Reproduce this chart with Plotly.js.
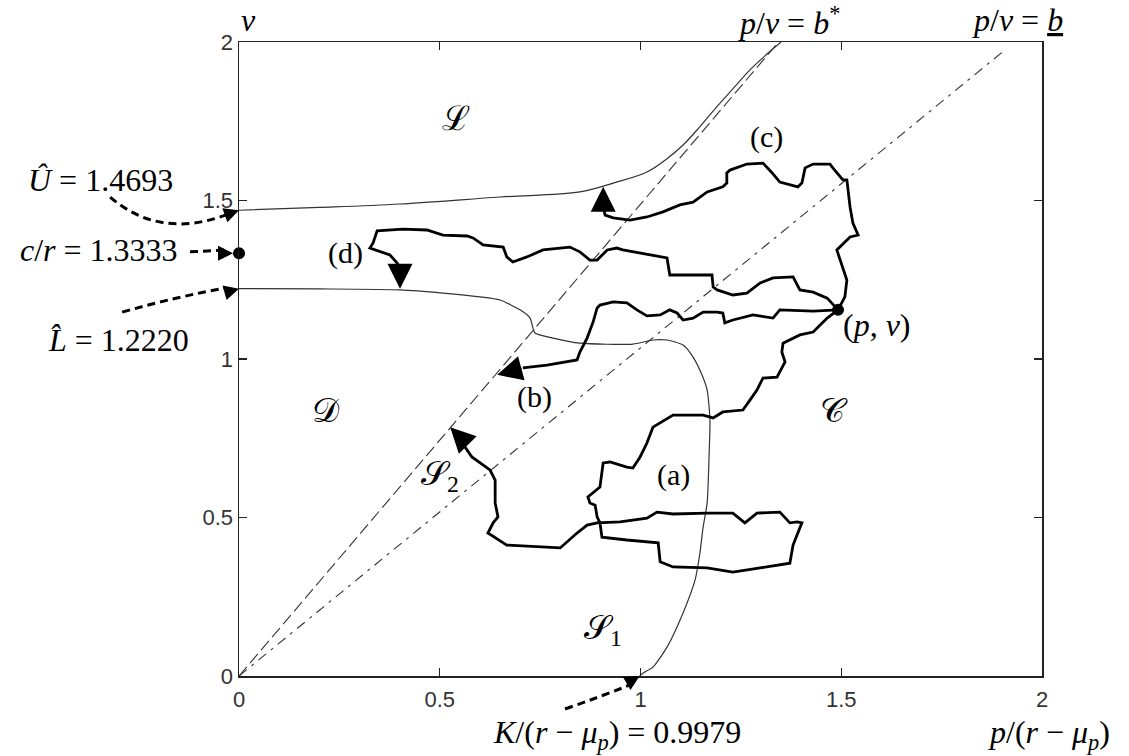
<!DOCTYPE html>
<html>
<head>
<meta charset="utf-8">
<script src="https://cdn.plot.ly/plotly-3.0.1.min.js"></script>
<style>html,body{margin:0;padding:0;background:#fff;}</style>
</head>
<body>
<div id="chart" style="width:1129px;height:756px;"></div>
<script>
// Axis ticks
const tickVals = [0, 0.5, 1, 1.5, 2];
const tickText = ['0', '0.5', '1', '1.5', '2'];
const axisRange = [0, 2];

// Key thresholds
const uHat = 1.4693;     // upper boundary at p = 0
const cOverR = 1.3333;   // c/r
const lHat = 1.2220;     // lower boundary at p = 0
const kRatio = 0.9979;   // K/(r - mu_p)
const bStar = 0.672;     // slope parameter of p/v = b*
const bLow = 0.966;      // slope parameter of p/v = b (underlined)
const bLowEndP = 1.91;

// Starting state (p, v)
const startP = 1.492;
const startV = 1.155;

// Upper free boundary (from U-hat)
const upperP = [0, 0.2, 0.401, 0.650, 0.849, 0.932, 1.016, 1.066, 1.106, 1.146, 1.186, 1.23, 1.275, 1.315, 1.35];
const upperV = [1.4693, 1.478, 1.489, 1.511, 1.527, 1.555, 1.590, 1.632, 1.675, 1.730, 1.790, 1.852, 1.915, 1.962, 2.0];

// Lower free boundary (from L-hat, down to K/(r - mu_p))
const lowerP = [0, 0.2, 0.401, 0.508, 0.600, 0.650, 0.700, 0.725, 0.732, 0.737, 0.782, 0.849, 0.981, 1.031, 1.066, 1.106, 1.131, 1.153, 1.166, 1.173, 1.171, 1.166, 1.156, 1.148, 1.136, 1.106, 1.066, 1.031, 1.006, 0.9979];
const lowerV = [1.222, 1.221, 1.218, 1.208, 1.196, 1.186, 1.155, 1.129, 1.098, 1.082, 1.066, 1.050, 1.047, 1.060, 1.060, 1.044, 1.006, 0.950, 0.902, 0.808, 0.703, 0.546, 0.470, 0.388, 0.303, 0.199, 0.091, 0.028, 0.009, 0];

// Sample paths (a)-(d), each starting at (p, v)
const pathAP = [1.492, 1.465, 1.430, 1.397, 1.355, 1.352, 1.360, 1.347, 1.340, 1.305, 1.290, 1.273, 1.255, 1.205, 1.181, 1.156, 1.081, 1.031, 1.016, 0.999, 0.981, 0.966, 0.924, 0.907, 0.899, 0.869, 0.874, 0.887, 0.892, 0.899, 0.904, 0.966, 1.044, 1.049, 1.081, 1.166, 1.230, 1.298, 1.372, 1.380, 1.402, 1.390, 1.372, 1.347, 1.290, 1.260, 1.230, 1.166, 1.081, 1.041, 1.016, 0.949, 0.892, 0.867, 0.842, 0.800, 0.667, 0.620, 0.633, 0.645, 0.638, 0.638, 0.625, 0.580, 0.563, 0.558];
const pathAV = [1.155, 1.129, 1.085, 1.076, 1.050, 1.022, 0.991, 0.959, 0.943, 0.940, 0.902, 0.871, 0.839, 0.833, 0.814, 0.823, 0.823, 0.785, 0.735, 0.691, 0.656, 0.659, 0.675, 0.672, 0.596, 0.565, 0.546, 0.539, 0.502, 0.483, 0.438, 0.429, 0.420, 0.360, 0.344, 0.341, 0.328, 0.341, 0.356, 0.413, 0.483, 0.486, 0.483, 0.517, 0.514, 0.483, 0.514, 0.514, 0.511, 0.517, 0.498, 0.486, 0.483, 0.476, 0.451, 0.404, 0.413, 0.451, 0.483, 0.502, 0.546, 0.618, 0.650, 0.691, 0.722, 0.744];

const pathBP = [1.492, 1.430, 1.347, 1.330, 1.280, 1.230, 1.210, 1.205, 1.191, 1.156, 1.131, 1.106, 1.091, 1.073, 1.049, 1.016, 0.991, 0.966, 0.932, 0.899, 0.892, 0.882, 0.867, 0.849, 0.842, 0.767, 0.707];
const pathBV = [1.155, 1.151, 1.155, 1.129, 1.139, 1.123, 1.114, 1.145, 1.148, 1.148, 1.129, 1.123, 1.145, 1.155, 1.139, 1.136, 1.155, 1.177, 1.180, 1.170, 1.161, 1.117, 1.066, 1.022, 0.997, 0.981, 0.972];

const pathCP = [1.492, 1.509, 1.514, 1.504, 1.489, 1.522, 1.542, 1.529, 1.522, 1.514, 1.504, 1.479, 1.472, 1.430, 1.410, 1.402, 1.392, 1.347, 1.328, 1.305, 1.265, 1.223, 1.215, 1.215, 1.205, 1.166, 1.131, 1.098, 1.056, 1.016, 0.974, 0.932, 0.912, 0.907, 0.907];
const pathCV = [1.155, 1.196, 1.249, 1.290, 1.344, 1.385, 1.391, 1.429, 1.479, 1.565, 1.565, 1.603, 1.615, 1.615, 1.603, 1.555, 1.543, 1.558, 1.587, 1.618, 1.615, 1.596, 1.587, 1.555, 1.543, 1.527, 1.495, 1.486, 1.464, 1.448, 1.438, 1.445, 1.454, 1.479, 1.490];

const pathDP = [1.492, 1.465, 1.430, 1.397, 1.380, 1.330, 1.298, 1.265, 1.230, 1.191, 1.181, 1.178, 1.073, 1.066, 0.956, 0.941, 0.917, 0.892, 0.874, 0.849, 0.824, 0.757, 0.717, 0.682, 0.667, 0.658, 0.608, 0.583, 0.568, 0.508, 0.468, 0.408, 0.344, 0.334, 0.326, 0.346, 0.376, 0.394, 0.401];
const pathDV = [1.155, 1.192, 1.211, 1.218, 1.259, 1.256, 1.240, 1.208, 1.202, 1.218, 1.227, 1.265, 1.265, 1.319, 1.344, 1.350, 1.344, 1.312, 1.312, 1.338, 1.353, 1.344, 1.322, 1.306, 1.322, 1.353, 1.360, 1.382, 1.388, 1.391, 1.407, 1.410, 1.404, 1.366, 1.350, 1.341, 1.328, 1.303, 1.287];

// Where each path hits a boundary (arrow tips), order a, b, c, d
const arrowTipP = [0.526, 0.643, 0.907, 0.401];
const arrowTipV = [0.785, 0.950, 1.543, 1.222];

// ---------------------------------------------------------------
const thin = {color: '#333', width: 1.2};
const thick = {color: '#000', width: 2.8};
const toPaperX = p => (p - axisRange[0]) / (axisRange[1] - axisRange[0]);
const toPaperY = v => (v - axisRange[0]) / (axisRange[1] - axisRange[0]);

const traces = [
  {x: [0, 2 * bStar], y: [0, 2], mode: 'lines', line: {color: '#333', width: 1.1, dash: '12px,5px'}},
  {x: [0, bLowEndP], y: [0, bLowEndP / bLow], mode: 'lines', line: {color: '#333', width: 1.1, dash: '10px,6px,3px,6px'}},
  {x: upperP, y: upperV, mode: 'lines', line: Object.assign({shape: 'spline', smoothing: 1}, thin)},
  {x: lowerP, y: lowerV, mode: 'lines', line: Object.assign({shape: 'spline', smoothing: 0.6}, thin)},
  {x: pathAP, y: pathAV, mode: 'lines', line: thick},
  {x: pathBP, y: pathBV, mode: 'lines', line: thick},
  {x: pathCP, y: pathCV, mode: 'lines', line: thick},
  {x: pathDP, y: pathDV, mode: 'lines', line: thick},
  {x: [startP, 0], y: [startV, cOverR], mode: 'markers', cliponaxis: false,
   marker: {color: '#000', size: 12}}
];

const pathEnds = [[pathAP, pathAV], [pathBP, pathBV], [pathCP, pathCV], [pathDP, pathDV]];
const annotations = [];

// Arrowheads where the paths stop
pathEnds.forEach(([ps, vs], i) => {
  annotations.push({
    x: arrowTipP[i], y: arrowTipV[i], xref: 'x', yref: 'y',
    ax: ps[ps.length - 1], ay: vs[vs.length - 1], axref: 'x', ayref: 'y',
    showarrow: true, arrowhead: 2, arrowsize: 2.0, arrowwidth: 2.5, arrowcolor: '#000', text: ''
  });
});

// Arrowheads of the value call-outs
[[0, uHat, -14, 5, 0], [0, cOverR, -14, 0, 6], [0, lHat, -14, 4, 0], [kRatio, 0, -12, 7, 0]].forEach(([p, v, dx, dy, so]) => {
  annotations.push({
    x: p, y: v, xref: 'x', yref: 'y', ax: dx, ay: dy, standoff: so,
    showarrow: true, arrowhead: 2, arrowsize: 1.2, arrowwidth: 2.5, arrowcolor: '#000', text: ''
  });
});

const mathFont = {family: 'Liberation Serif, DejaVu Serif, serif', size: 32, color: '#000'};
function label(p, v, text, size) {
  annotations.push({
    x: toPaperX(p), y: toPaperY(v), xref: 'paper', yref: 'paper',
    text: text, showarrow: false, xanchor: 'center', yanchor: 'middle',
    font: Object.assign({}, mathFont, size ? {size: size} : {})
  });
}

label(0.024, 2.070, '<i>v</i>');
label(2.017, -0.186, '<i>p</i>/(<i>r</i> − <i>μ</i><sub><i>p</i></sub>)');
label(1.370, 2.066, '<i>p</i>/<i>v</i> = <i>b</i><sup>*</sup>');
label(1.938, 2.070, '<i>p</i>/<i>v</i> = <u><i>b</i></u>');
label(-0.344, 1.565, '<i>Û</i> = ' + uHat.toFixed(4));
label(-0.349, 1.344, '<i>c</i>/<i>r</i> = ' + cOverR.toFixed(4));
label(-0.301, 1.060, '<i>L̂</i> = ' + lHat.toFixed(4));
label(0.941, -0.186, '<i>K</i>/(<i>r</i> − <i>μ</i><sub><i>p</i></sub>) = ' + kRatio.toFixed(4));
label(0.540, 1.760, 'ℒ', 34);
label(0.217, 0.839, '𝒟', 34);
label(1.482, 0.839, '𝒞', 34);
label(0.501, 0.631, '𝒮<sub>2</sub>', 34);
label(0.907, 0.145, '𝒮<sub>1</sub>', 34);
label(1.081, 0.634, '(a)', 30);
label(0.737, 0.880, '(b)', 30);
label(1.315, 1.700, '(c)', 30);
label(0.266, 1.334, '(d)', 30);
label(1.589, 1.107, '(<i>p</i>, <i>v</i>)');

// Dashed call-out leaders (quadratic curves), given in data units
const leaders = [
  [[-0.321, 1.511], [-0.197, 1.375], [-0.027, 1.457]],
  [[-0.122, 1.338], [-0.077, 1.341], [-0.032, 1.344]],
  [[-0.291, 1.148], [-0.147, 1.199], [-0.032, 1.224]],
  [[0.812, -0.104], [0.899, -0.066], [0.974, -0.028]]
];
const shapes = leaders.map(([s, c, e]) => ({
  type: 'path', xref: 'paper', yref: 'paper',
  path: `M${toPaperX(s[0])},${toPaperY(s[1])} Q${toPaperX(c[0])},${toPaperY(c[1])} ${toPaperX(e[0])},${toPaperY(e[1])}`,
  line: {color: '#000', width: 3, dash: '8px,5px'}
}));

const axisCommon = {
  range: axisRange, tickvals: tickVals, ticktext: tickText,
  ticks: 'inside', ticklen: 8, tickwidth: 1.3, tickcolor: '#222',
  showline: true, mirror: 'ticks', linecolor: '#222', linewidth: 1.5,
  showgrid: false, zeroline: false,
  tickfont: {family: 'Liberation Sans, Arial, sans-serif', size: 22, color: '#333'}
};

const layout = {
  width: 1129, height: 756,
  margin: {l: 239, r: 87, t: 42, b: 80},
  paper_bgcolor: '#fff', plot_bgcolor: '#fff',
  showlegend: false,
  xaxis: Object.assign({}, axisCommon, {ticklabelstandoff: 3}),
  yaxis: Object.assign({}, axisCommon),
  annotations: annotations,
  shapes: shapes
};

Plotly.newPlot('chart', traces, layout, {displayModeBar: false, staticPlot: true});
</script>
</body>
</html>
